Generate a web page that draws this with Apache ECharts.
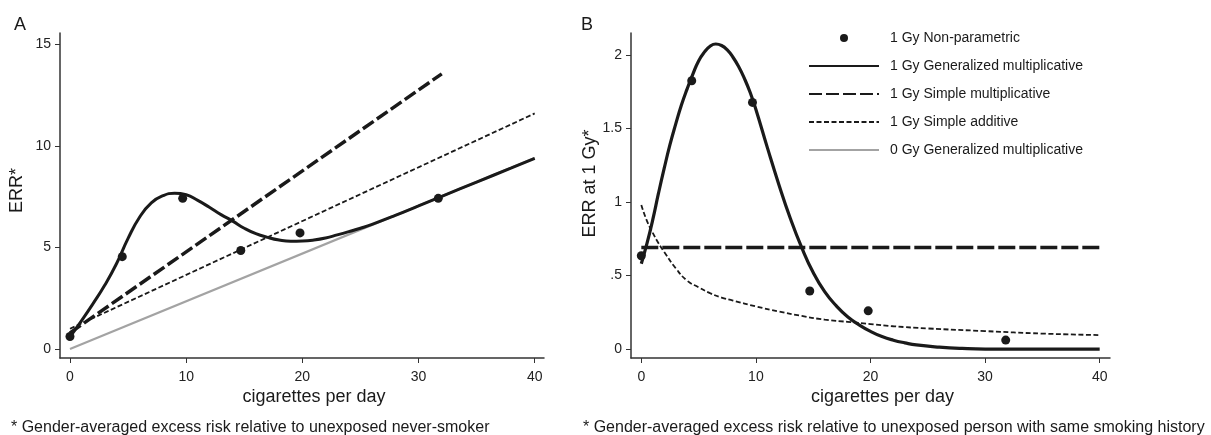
<!DOCTYPE html>
<html>
<head>
<meta charset="utf-8">
<script src="https://cdn.jsdelivr.net/npm/echarts@6/dist/echarts.min.js"></script>
<style>
html,body{margin:0;padding:0;background:#fff;}
#chart{width:1211px;height:435px;}
</style>
</head>
<body>
<div id="chart"></div>
<script>
// ---------- Data ----------
const seriesNames = ['1 Gy Non-parametric', '1 Gy Generalized multiplicative', '1 Gy Simple multiplicative', '1 Gy Simple additive', '0 Gy Generalized multiplicative'];
const xTicks = [0, 10, 20, 30, 40];
const yTicksA = [0, 5, 10, 15];
const yTicksB = [0, 0.5, 1, 1.5, 2];

// Panel A
const aNonParX = [0, 4.5, 9.7, 14.7, 19.8, 31.7];
const aNonParY = [0.62, 4.55, 7.42, 4.85, 5.72, 7.42];
const aGenMultX = [0,1,2,3,4,5,6,7,8,9,10,11,12,13,14,15,16,17,18,19,20,21,22,23,24,25,26,28,30,32,35,38,40];
const aGenMultY = [0.6,1.4,2.25,3.15,4.2,5.45,6.5,7.2,7.55,7.67,7.6,7.32,6.98,6.62,6.3,5.95,5.68,5.5,5.37,5.31,5.32,5.37,5.47,5.62,5.78,5.95,6.14,6.58,7.05,7.52,8.22,8.92,9.39];
const aSimpMultX = [0, 32];
const aSimpMultY = [0.8, 13.55];
const aSimpAddX = [0, 40];
const aSimpAddY = [1.0, 11.6];
const aGen0X = [0, 40];
const aGen0Y = [0, 9.4];

// Panel B
const bNonParX = [0, 4.4, 9.7, 14.7, 19.8, 31.8];
const bNonParY = [0.635, 1.825, 1.678, 0.395, 0.26, 0.061];
const bGenMultX = [0,0.5,1,1.5,2,2.5,3,3.5,4,4.5,5,5.5,6,6.5,7,7.5,8,8.5,9,9.5,10,11,12,13,14,15,16,17,18,19,20,21,22,23,24,26,28,30,35,40];
const bGenMultY = [0.58,0.72,0.88,1.06,1.23,1.39,1.53,1.66,1.77,1.87,1.96,2.02,2.06,2.075,2.065,2.035,1.985,1.92,1.84,1.745,1.63,1.37,1.12,0.89,0.69,0.52,0.39,0.295,0.22,0.165,0.12,0.085,0.06,0.042,0.028,0.013,0.004,0,0,0];
const bSimpMultX = [0, 40];
const bSimpMultY = [0.69, 0.69];
const bSimpAddX = [0,0.5,1,1.5,2,3,4,5,6,7,8,10,12,14,16,18,20,22,25,30,35,40];
const bSimpAddY = [0.98,0.87,0.79,0.72,0.66,0.55,0.465,0.42,0.38,0.35,0.33,0.29,0.255,0.225,0.2,0.185,0.17,0.155,0.14,0.122,0.105,0.095];

// ---------- Helpers ----------
const zip = (xs, ys) => xs.map((x, i) => [x, ys[i]]);
const INK = '#1a1a1a';
const GRAY = '#a3a3a3';
const FONT = 'Liberation Sans, Arial, sans-serif';
const HIDDEN = { color: 'rgba(0,0,0,0)', borderColor: 'rgba(0,0,0,0)', borderWidth: 0, opacity: 0 };

function xAxisDef(gridIndex, min, max) {
  return {
    type: 'value', gridIndex, min, max,
    name: 'cigarettes per day', nameLocation: 'middle', nameGap: 30, nameMoveOverlap: false,
    nameTextStyle: { fontSize: 18, color: INK, fontFamily: FONT, padding: [0, 0, 0, 24] },
    axisLine: { show: true, onZero: false, lineStyle: { color: '#333', width: 1.5 } },
    axisTick: { show: true, length: 5, lineStyle: { color: '#333', width: 1 }, customValues: xTicks },
    axisLabel: { color: '#222', fontSize: 14, margin: 12, fontFamily: FONT, customValues: xTicks },
    splitLine: { show: false }
  };
}
function yAxisDef(gridIndex, min, max, name, gap, shift, ticks, fmt) {
  return {
    type: 'value', gridIndex, min, max,
    name, nameLocation: 'middle', nameGap: gap,
    nameTextStyle: { fontSize: 18, color: INK, fontFamily: FONT, padding: [0, 0, 0, shift] },
    axisLine: { show: true, onZero: false, lineStyle: { color: '#333', width: 1.5 } },
    axisTick: { show: true, length: 5, lineStyle: { color: '#333', width: 1 }, customValues: ticks },
    axisLabel: { color: '#222', fontSize: 14, margin: 9, fontFamily: FONT, customValues: ticks, formatter: fmt },
    splitLine: { show: false }
  };
}

const chart = echarts.init(document.getElementById('chart'), null, { renderer: 'canvas' });
chart.setOption({
  backgroundColor: '#fff',
  animation: false,
  textStyle: { fontFamily: FONT },
  title: [
    { text: 'A', left: 9, top: 11, textStyle: { fontSize: 18, fontWeight: 'normal', color: INK, fontFamily: FONT } },
    { text: 'B', left: 576, top: 11, textStyle: { fontSize: 18, fontWeight: 'normal', color: INK, fontFamily: FONT } },
    { text: '* Gender-averaged excess risk relative to unexposed never-smoker', left: 6, top: 415, textStyle: { fontSize: 16, fontWeight: 'normal', color: INK, fontFamily: FONT } },
    { text: '* Gender-averaged excess risk relative to unexposed person with same smoking history', left: 578, top: 415, textStyle: { fontSize: 16, fontWeight: 'normal', color: INK, fontFamily: FONT } }
  ],
  legend: {
    data: [
      { name: seriesNames[0] },
      { name: seriesNames[1], itemStyle: HIDDEN },
      { name: seriesNames[2], itemStyle: HIDDEN },
      { name: seriesNames[3], itemStyle: HIDDEN },
      { name: seriesNames[4], itemStyle: HIDDEN }
    ],
    orient: 'vertical', left: 803, top: 25,
    itemWidth: 70, itemHeight: 8, itemGap: 12,
    selectedMode: false,
    textStyle: { fontSize: 14, color: INK, fontFamily: FONT, lineHeight: 16, padding: [0, 0, 0, 6] }
  },
  grid: [
    { left: 60, right: 667, top: 33, bottom: 77 },
    { left: 631, right: 101, top: 33, bottom: 77 }
  ],
  xAxis: [xAxisDef(0, -0.86, 40.8), xAxisDef(1, -0.9, 40.9)],
  yAxis: [
    yAxisDef(0, -0.44, 15.56, 'ERR*', 34, 10, yTicksA, v => String(v)),
    yAxisDef(1, -0.061, 2.15, 'ERR at 1 Gy*', 23, 24, yTicksB, v => (v === 0.5 ? '.5' : String(v)))
  ],
  series: [
    // Panel A
    { name: seriesNames[4], type: 'line', xAxisIndex: 0, yAxisIndex: 0, data: zip(aGen0X, aGen0Y), symbol: 'none', lineStyle: { color: GRAY, width: 2.2 }, itemStyle: { color: GRAY }, z: 1 },
    { name: seriesNames[3], type: 'line', xAxisIndex: 0, yAxisIndex: 0, data: zip(aSimpAddX, aSimpAddY), symbol: 'none', lineStyle: { color: INK, width: 1.8, type: [5, 2.5] }, itemStyle: { color: INK }, z: 2 },
    { name: seriesNames[2], type: 'line', xAxisIndex: 0, yAxisIndex: 0, data: zip(aSimpMultX, aSimpMultY), symbol: 'none', lineStyle: { color: INK, width: 3.5, type: [13, 4] }, itemStyle: { color: INK }, z: 3 },
    { name: seriesNames[1], type: 'line', xAxisIndex: 0, yAxisIndex: 0, data: zip(aGenMultX, aGenMultY), symbol: 'none', smooth: true, lineStyle: { color: INK, width: 3 }, itemStyle: { color: INK }, z: 4 },
    { name: seriesNames[0], type: 'scatter', xAxisIndex: 0, yAxisIndex: 0, data: zip(aNonParX, aNonParY), symbol: 'circle', symbolSize: 9, itemStyle: { color: INK, opacity: 1 }, z: 5 },
    // Panel B
    { name: seriesNames[3], type: 'line', xAxisIndex: 1, yAxisIndex: 1, data: zip(bSimpAddX, bSimpAddY), symbol: 'none', smooth: true, lineStyle: { color: INK, width: 1.8, type: [5, 2.5] }, itemStyle: { color: INK }, z: 2 },
    { name: seriesNames[2], type: 'line', xAxisIndex: 1, yAxisIndex: 1, data: zip(bSimpMultX, bSimpMultY), symbol: 'none', lineStyle: { color: INK, width: 3.5, type: [17, 4] }, itemStyle: { color: INK }, z: 3 },
    { name: seriesNames[1], type: 'line', xAxisIndex: 1, yAxisIndex: 1, data: zip(bGenMultX, bGenMultY), symbol: 'none', smooth: true, lineStyle: { color: INK, width: 3.2 }, itemStyle: { color: INK }, z: 4 },
    { name: seriesNames[0], type: 'scatter', xAxisIndex: 1, yAxisIndex: 1, data: zip(bNonParX, bNonParY), symbol: 'circle', symbolSize: 9, itemStyle: { color: INK, opacity: 1 }, z: 5 }
  ]
});
</script>
</body>
</html>
